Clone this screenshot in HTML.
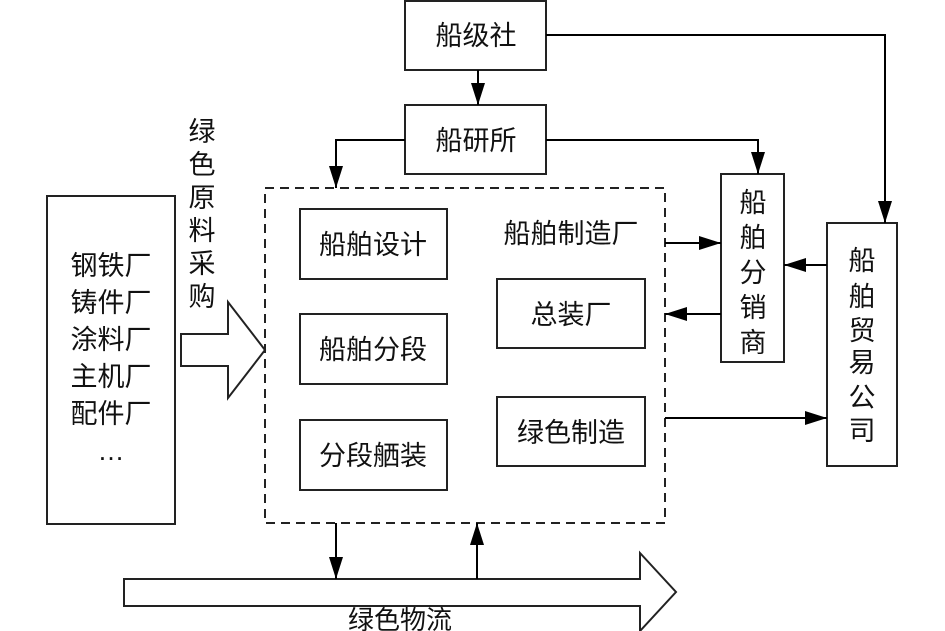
<!DOCTYPE html>
<html><head><meta charset="utf-8"><style>
html,body{margin:0;padding:0;background:#fff;}
svg{display:block;}
text{font-family:"Liberation Sans","Noto Sans CJK SC",sans-serif;font-size:27px;fill:#111;}
</style></head><body>
<svg width="945" height="631" viewBox="0 0 945 631" xmlns="http://www.w3.org/2000/svg">
<defs>
<marker id="b" viewBox="0 0 22 14" markerWidth="22" markerHeight="14" refX="22" refY="7" orient="auto" markerUnits="userSpaceOnUse">
<path d="M0,0 L22,7 L0,14 Z" fill="#000"/></marker>
</defs>
<g fill="none" stroke="#222" stroke-width="2">
<rect x="405" y="1" width="141" height="69"/>
<rect x="405" y="105" width="141" height="69"/>
<rect x="300" y="209" width="147" height="70"/>
<rect x="300" y="314" width="147" height="70"/>
<rect x="300" y="420" width="147" height="70"/>
<rect x="497" y="279" width="148" height="69"/>
<rect x="497" y="397" width="148" height="69"/>
<rect x="721" y="174" width="63" height="188"/>
<rect x="827" y="223" width="70" height="243"/>
<rect x="47" y="196" width="128" height="328"/>
<rect x="265" y="188" width="400" height="335" stroke-dasharray="9,6"/>
<path d="M181,334 H228 V302 L265,350 L228,398 V366 H181 Z"/>
<path d="M124,579 H640 V553 L676,592 L640,631 V606 H124 Z"/>
</g>
<g fill="none" stroke="#000" stroke-width="2">
<path d="M478,70 V105" marker-end="url(#b)"/>
<path d="M546,35 H885 V223" marker-end="url(#b)"/>
<path d="M405,140 H336 V188" marker-end="url(#b)"/>
<path d="M546,140 H758 V174" marker-end="url(#b)"/>
<path d="M665,243 H721" marker-end="url(#b)"/>
<path d="M721,314 H665" marker-end="url(#b)"/>
<path d="M827,265 H784" marker-end="url(#b)"/>
<path d="M665,418 H827" marker-end="url(#b)"/>
<path d="M336,523 V579" marker-end="url(#b)"/>
<path d="M477,579 V523" marker-end="url(#b)"/>
</g>
<g text-anchor="middle">
<text x="476" y="45">船级社</text>
<text x="476" y="150">船研所</text>
<text x="373" y="254">船舶设计</text>
<text x="373" y="359">船舶分段</text>
<text x="373" y="465">分段舾装</text>
<text x="571" y="324">总装厂</text>
<text x="571" y="442">绿色制造</text>
<text x="571" y="243">船舶制造厂</text>
<text x="111" y="275">钢铁厂</text>
<text x="111" y="312">铸件厂</text>
<text x="111" y="349">涂料厂</text>
<text x="111" y="386">主机厂</text>
<text x="111" y="423">配件厂</text>
<text x="111" y="460">…</text>
<text x="202" y="141">绿</text>
<text x="202" y="174">色</text>
<text x="202" y="207">原</text>
<text x="202" y="240">料</text>
<text x="202" y="273">采</text>
<text x="202" y="306">购</text>
<text x="753" y="212">船</text>
<text x="753" y="247">舶</text>
<text x="753" y="282">分</text>
<text x="753" y="317">销</text>
<text x="753" y="352">商</text>
<text x="862" y="270">船</text>
<text x="862" y="306">舶</text>
<text x="862" y="340">贸</text>
<text x="862" y="372">易</text>
<text x="862" y="407">公</text>
<text x="862" y="440">司</text>
<text x="400" y="629" style="font-size:26px">绿色物流</text>
</g>
</svg>
</body></html>
